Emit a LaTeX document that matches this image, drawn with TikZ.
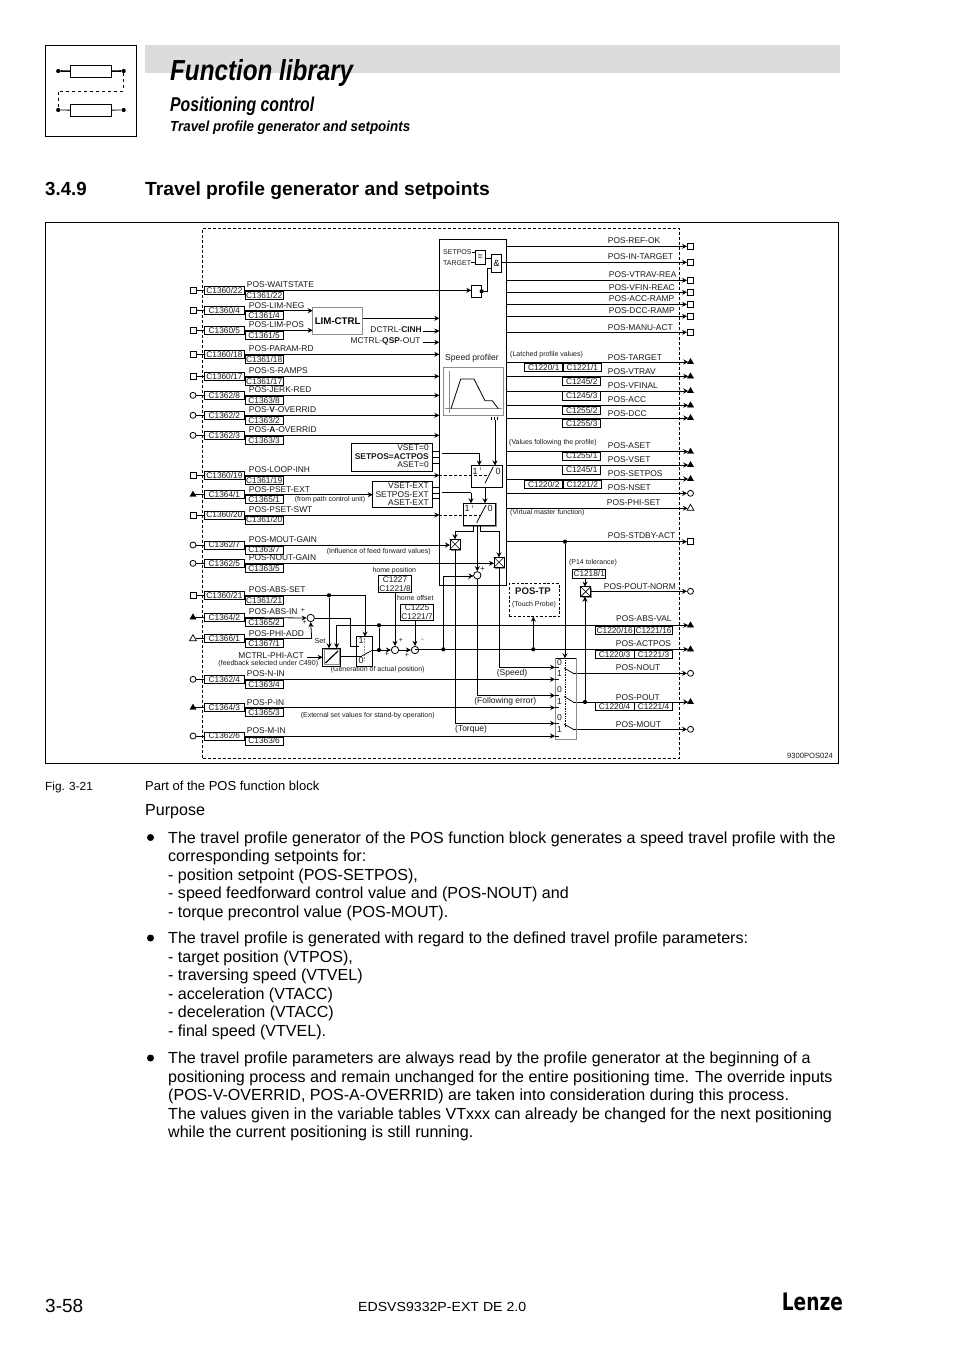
\documentclass[tikz,border=0pt]{standalone}
\usepackage{fontspec}
\setmainfont{Liberation Sans}
\newfontfamily\logofont{DejaVu Sans}
\usetikzlibrary{arrows.meta,shapes.geometric}
\definecolor{ink}{HTML}{1A1A1A}
\definecolor{band}{HTML}{DCDCDC}
\definecolor{grayline}{HTML}{8C8C8C}
\newcommand{\fs}[1]{\fontsize{#1}{#1}\selectfont}
\newcommand{\fitw}[3]{\resizebox{#1pt}{\height}{\fs{#2}#3}}
\tikzset{
  wire/.style={line width=0.8pt,draw=black},
  arr/.style={wire,-{Stealth[length=5pt,width=5pt]}},
  cbox/.style={draw=black,line width=0.7pt,inner sep=0pt,minimum height=8pt,font=\fs{8.3},text=ink},
  lab/.style={inner sep=0pt,font=\fs{8.4},text=ink},
  note/.style={inner sep=0pt,font=\fs{7},text=ink},
  notem/.style={inner sep=0pt,font=\fs{8.5},text=ink},
  sq/.style={draw=black,line width=0.9pt,fill=white,minimum size=6pt,inner sep=0pt},
  rnd/.style={draw=black,line width=0.8pt,fill=white,circle,minimum size=6pt,inner sep=0pt},
  trf/.style={draw=black,fill=black,regular polygon,regular polygon sides=3,minimum size=7pt,inner sep=0pt},
  tro/.style={draw=black,line width=0.7pt,fill=white,regular polygon,regular polygon sides=3,minimum size=8pt,inner sep=0pt},
  sumn/.style={draw=black,line width=0.8pt,fill=white,circle,minimum size=7.4pt,inner sep=0pt},
  dotn/.style={fill=black,circle,minimum size=4.2pt,inner sep=0pt},
  blk/.style={draw=black,line width=0.8pt,inner sep=0pt},
  body/.style={anchor=base west,inner sep=0pt,font=\fs{16.05}},
}
% key, style, x1, y1, x2, y2, text
\newcommand{\rnode}[7]{\node[#2,minimum width={(#5)-(#3)},minimum height={(#6)-(#4)}] (#1) at ({((#3)+(#5))/2},{((#4)+(#6))/2}) {#7};}
% key, y, symbol style, code 1, code 2, label, label x
\newcommand{\inrow}[7]{%
  \node[#3] (sym#1) at (193,#2) {};
  \rnode{ca#1}{cbox}{204.5}{#2-4}{244.3}{#2+4}{#4}
  \rnode{cb#1}{cbox}{245}{#2+1}{283.3}{#2+9}{#5}
  \node[lab,anchor=base west] (lab#1) at (#7,#2-2.4) {#6};
  \draw[wire] (sym#1) -- (ca#1);
}
% key, y, symbol style, label, label x, label centre y, start x
\newcommand{\outrow}[7]{%
  \node[#3] (sym#1) at (690.5,#2) {};
  \coordinate (from#1) at (#7,#2);
  \draw[arr] (from#1) -- (sym#1);
  \node[lab,anchor=west] (lab#1) at (#5,#6) {#4};
}
% cross box: key, x1, y1, x2, y2
\newcommand{\xbox}[5]{%
  \draw[grayline,line width=1.1pt] (#2+0.8,#5+0.8) -- (#4+0.8,#5+0.8) -- (#4+0.8,#3+0.8);
  \rnode{#1}{blk}{#2}{#3}{#4}{#5}{}
  \draw[line width=0.6pt] (#1.north west) -- (#1.south east) (#1.north east) -- (#1.south west);
}
\begin{document}
\begin{tikzpicture}[x=1pt,y=-1pt,line cap=butt]
\useasboundingbox (0,0) rectangle (954,1350);
\fill[white] (0,0) rectangle (954,1350);

% ---------- header ----------
\fill[band] (145,44.7) rectangle (840,72.7);
\rnode{icon}{blk}{45.3}{45.3}{136.5}{136.5}{}
\rnode{ica}{blk}{70.3}{65}{111.7}{77.7}{}
\rnode{icb}{blk}{70.3}{104}{111.7}{116.7}{}
\node[dotn] (ica1) at (58.2,71) {};
\node[dotn] (ica2) at (123.7,71) {};
\node[dotn] (icb1) at (58.2,110) {};
\node[dotn] (icb2) at (123.7,110) {};
\draw[line width=1.6pt] (ica1) -- (ica) (ica) -- (ica2);
\draw[wire] (icb1) -- (icb) (icb) -- (icb2);
\coordinate (ica3) at (123.7,91);
\coordinate (icb3) at (58.2,91);
\draw[line width=0.7pt,dash pattern=on 3pt off 3pt] (ica2) -- (ica3) -- (icb3) -- (icb1);

\node[anchor=base west,inner sep=0pt] (title) at (170,80) {\fitw{183}{29}{\bfseries\itshape Function library}};
\node[anchor=base west,inner sep=0pt] (sub1) at (170,111) {\fitw{144}{20}{\bfseries\itshape Positioning control}};
\node[anchor=base west,inner sep=0pt] (sub2) at (170,131.7) {\fitw{240}{14.6}{\bfseries\itshape Travel profile generator and setpoints}};
\node[anchor=base west,inner sep=0pt] (secn) at (45,195) {\fitw{41.5}{19}{\bfseries 3.4.9}};
\node[anchor=base west,inner sep=0pt] (sect) at (145,195) {\fitw{344.5}{19}{\bfseries Travel profile generator and setpoints}};

% ---------- frames ----------
\rnode{outer}{blk}{45}{222.3}{838.5}{763.3}{}
\rnode{dash}{draw=black,line width=0.8pt,dash pattern=on 3pt off 2pt,inner sep=0pt}{202.5}{228.5}{679.5}{758}{}
\node[anchor=east,inner sep=0pt,font=\fs{7.6},text=ink] (figid) at (833,756) {9300POS024};

% ---------- central block ----------
\rnode{core}{blk}{439.3}{239.3}{506.3}{585.3}{}

% ---------- inputs ----------
\inrow{wait}{290.3}{sq}{C1360/22}{C1361/22}{POS-WAITSTATE}{246.7}
\inrow{neg}{310.7}{sq}{C1360/4}{C1361/4}{POS-LIM-NEG}{248.7}
\inrow{pos}{330.3}{sq}{C1360/5}{C1361/5}{POS-LIM-POS}{248.7}
\inrow{par}{354.3}{sq}{C1360/18}{C1361/18}{POS-PARAM-RD}{248.7}
\inrow{ramp}{376.3}{sq}{C1360/17}{C1361/17}{POS-S-RAMPS}{248.7}
\inrow{jerk}{395.3}{rnd}{C1362/8}{C1363/8}{POS-JERK-RED}{248.7}
\inrow{vov}{415.3}{rnd}{C1362/2}{C1363/2}{POS-\textbf{V}-OVERRID}{248.7}
\inrow{aov}{435.3}{rnd}{C1362/3}{C1363/3}{POS-\textbf{A}-OVERRID}{248.7}
\inrow{loop}{475.3}{sq}{C1360/19}{C1361/19}{POS-LOOP-INH}{248.7}
\inrow{pset}{494.7}{trf}{C1364/1}{C1365/1}{POS-PSET-EXT}{248.7}
\inrow{swt}{515}{sq}{C1360/20}{C1361/20}{POS-PSET-SWT}{248.7}
\inrow{mgain}{545}{rnd}{C1362/7}{C1363/7}{POS-MOUT-GAIN}{248.7}
\inrow{ngain}{563.3}{rnd}{C1362/5}{C1363/5}{POS-NOUT-GAIN}{248.7}
\inrow{abs}{595.3}{sq}{C1360/21}{C1361/21}{POS-ABS-SET}{248.7}
\inrow{absin}{617.3}{trf}{C1364/2}{C1365/2}{POS-ABS-IN}{248.7}
\inrow{phi}{638.7}{tro}{C1366/1}{C1367/1}{POS-PHI-ADD}{248.7}
\inrow{nin}{679.3}{rnd}{C1362/4}{C1363/4}{POS-N-IN}{246.7}
\inrow{pin}{707.7}{trf}{C1364/3}{C1365/3}{POS-P-IN}{246.7}
\inrow{min}{736}{rnd}{C1362/6}{C1363/6}{POS-M-IN}{246.7}

\foreach \k/\yy in {par/354.3,ramp/376.3,jerk/395.3,vov/415.3,aov/435.3,loop/475.3,swt/515}{
  \coordinate (in\k) at (439.3,\yy);
  \draw[arr] (ca\k) -- (in\k);
}

% LIM-CTRL
\rnode{lim}{draw=grayline,line width=1pt,inner sep=0pt,font=\fs{9.7}\bfseries,text=black}{312.7}{307.3}{362.7}{334.3}{LIM-CTRL}
\coordinate (limneg) at (312.7,310.7);
\coordinate (limpos) at (312.7,330.3);
\draw[arr] (caneg) -- (limneg);
\draw[arr] (capos) -- (limpos);
\coordinate (limout) at (362.7,318.3);
\coordinate (limin) at (439.3,318.3);
\draw[arr] (limout) -- (limin);
\node[lab,anchor=east] (cinh) at (422,329.5) {DCTRL-\textbf{CINH}};
\node[lab,anchor=east] (qsp) at (420.7,341.7) {MCTRL-\textbf{QSP}-OUT};
\coordinate (cinhin) at (439.3,331);
\coordinate (qspin) at (439.3,342.3);
\draw[arr] (cinh.east) ++(1,1.5) coordinate (cinhs) -- (cinhin);
\draw[arr] (qsp.east) ++(2,0.6) coordinate (qsps) -- (qspin);

% set-value boxes
\node[draw=black,line width=0.8pt,minimum width=81.4pt,minimum height=27.6pt,inner sep=0pt] (vbox) at (392,457.5) {};
\node[lab,anchor=east] (v1) at (429,447.8) {VSET=0};
\node[lab,anchor=east] (v2) at (429,456.2) {\textbf{SETPOS=ACTPOS}};
\node[lab,anchor=east] (v3) at (429,464.6) {ASET=0};
\node[draw=black,line width=0.8pt,minimum width=60pt,minimum height=25.6pt,inner sep=0pt] (xvbox) at (402.7,494.5) {};
\node[lab,anchor=east] (x1) at (429,486) {VSET-EXT};
\node[lab,anchor=east] (x2) at (429,494.3) {SETPOS-EXT};
\node[lab,anchor=east] (x3) at (429,502.5) {ASET-EXT};
\foreach \yy in {451,457,463.3}{\draw[wire] (432.7,\yy) -- (439.3,\yy);}
\foreach \yy in {487.7,493.3,498.7}{\draw[wire] (432.7,\yy) -- (439.3,\yy);}
\coordinate (psetin) at (372.7,494.7);
\draw[arr] (capset) -- (psetin);

% inside block : comparator
\node[lab,anchor=west,font=\fs{7}] (sp) at (443,252.3) {SETPOS};
\node[lab,anchor=west,font=\fs{7}] (tg) at (443,262.7) {TARGET};
\rnode{eq}{blk,font=\fs{9}}{475}{250}{485.3}{264.3}{=}
\rnode{andg}{blk,font=\fs{9}}{491.7}{254}{501.7}{272.3}{\&}
\rnode{lat}{blk}{471.3}{285}{481.7}{297.7}{}
\draw[wire] (sp.east) -- (475,252.3);
\draw[wire] (tg.east) -- (475,262.7);
\draw[wire] (485.3,258.3) -- (491.7,258.3);
\coordinate (latin) at (471.3,290.3);
\draw[arr] (cawait) -- (latin);
\node[dotn] (latd) at (481.7,291.3) {};
\coordinate (latb) at (487.3,291.3);
\coordinate (latc) at (487.3,268.3);
\coordinate (latd2) at (491.7,268.3);
\draw[wire] (latd) -- (latb) -- (latc) -- (latd2);

% speed profiler
\node[lab,font=\fs{8.6},anchor=west] (spdp) at (445,358.3) {Speed profiler};
\rnode{prof}{draw=grayline,line width=1.1pt,inner sep=0pt}{443.3}{367.3}{503.3}{415.3}{}
\draw[grayline,line width=1pt] (449,370.7) -- (449,413.3);
\draw[grayline,line width=1pt] (445,408.7) -- (501.7,408.7);
\draw[wire] (451,408.7) -- (460.7,379) -- (474,379) -- (485,400.7) -- (492.3,400.7) -- (498.3,408.7);
\foreach \xx in {491,494,497.7}{\draw[line width=0.6pt] (\xx,416.5) -- (\xx,420);}

% switches
\rnode{swa}{blk}{471.7}{465.5}{502.7}{487.3}{}
\draw[grayline,line width=1.1pt] (463.3,526.5) -- (496.1,526.5) -- (496.1,503.3);
\rnode{swb}{blk}{463.3}{503.3}{495.3}{525.7}{}
\node[lab,anchor=center,font=\fs{9}] (swa1) at (475,471.5) {1};
\node[lab,anchor=center,font=\fs{9}] (swa0) at (498,471.5) {0};
\node[lab,anchor=center,font=\fs{9}] (swb1) at (467,508) {1};
\node[lab,anchor=center,font=\fs{9}] (swb0) at (490,508) {0};
\draw[line width=0.8pt] (485,483.3) -- (493.3,466.7);
\draw[line width=0.8pt] (476.7,522.7) -- (486,505);
\draw[grayline,line width=0.5pt] (480.7,467) -- (480.7,470);
\draw[grayline,line width=0.5pt] (472.2,505) -- (472.2,508);
\coordinate (profout) at (495,420);
\coordinate (swatop) at (495,465.5);
\draw[arr] (profout) -- (swatop);
\coordinate (vin) at (442.3,453.3);
\coordinate (vinb) at (479.3,453.3);
\coordinate (vinc) at (479.3,465.5);
\draw[wire] (vin) -- (vinb);
\draw[arr] (vinb) -- (vinc);
\coordinate (xin) at (442.3,492.7);
\coordinate (xinb) at (471,492.7);
\coordinate (xinc) at (471,503.3);
\draw[wire] (xin) -- (xinb);
\draw[arr] (xinb) -- (xinc);
\coordinate (swab) at (485,487.3);
\coordinate (swbt) at (485,503.3);
\draw[arr] (swab) -- (swbt);
\draw[line width=0.8pt,dash pattern=on 3pt off 2pt] (439.3,475.3) -- (488,475.3);
\draw[line width=0.8pt,dash pattern=on 3pt off 2pt] (439.3,515.5) -- (480,515.5);

% cross boxes
\xbox{xa}{450}{539.3}{460}{549.3}
\xbox{xb}{494}{557.3}{504}{567.3}
\xbox{xc}{580.7}{586.7}{590.7}{596.7}
\coordinate (xal) at (450,545);
\coordinate (xbl) at (494,563.3);
\draw[arr] (camgain) -- (xal);
\draw[arr] (cangain) -- (xbl);
\coordinate (sl1) at (473.3,525.7);
\coordinate (sl2) at (473.3,531);
\coordinate (sl3) at (455,531);
\coordinate (sl4) at (455,539.3);
\draw[wire] (sl1) -- (sl2) -- (sl3);
\draw[arr] (sl3) -- (sl4);
\coordinate (sr1) at (480.7,525.7);
\coordinate (sr2) at (480.7,531);
\coordinate (sr3) at (499,531);
\coordinate (sr4) at (499,557.3);
\draw[wire] (sr1) -- (sr2) -- (sr3);
\draw[arr] (sr3) -- (sr4);
\node[sumn] (sumc) at (477.3,575.3) {};
\coordinate (sm1) at (477.3,525.7);
\draw[arr] (sm1) -- (sumc);
\node[note,font=\fs{8}] (pc1) at (482.5,569) {+};
\node[note,font=\fs{8}] (pc2) at (469,580.7) {-};

% POS-TP
\rnode{tp}{draw=black,line width=0.8pt,dash pattern=on 2.6pt off 1.8pt,inner sep=0pt}{509.3}{583.7}{559.3}{616.7}{}
\node[lab,font=\fs{9.6}\bfseries] (tpt) at (533,590.7) {POS-TP};
\node[note] (tpn) at (534,604.7) {(Touch Probe)};

% ---------- actual position path ----------
\node[sumn] (sum1) at (310.7,618) {};
\draw[arr] (caabsin) -- (sum1.west);
\coordinate (phib) at (311.7,638.7);
\draw[wire] (caphi) -- (phib);
\draw[arr] (phib) -- (sum1.south);
\node[note,font=\fs{7}] (pa) at (303,610.7) {+};
\node[note,font=\fs{7}] (pb) at (304.3,622.9) {+};
\node[note,font=\fs{7.2}] (setl) at (320,640.7) {Set};

\rnode{setb}{blk}{322.7}{648.3}{340.7}{666}{}
\draw[grayline,line width=0.7pt] (323.9,649.5) rectangle (339.5,664.8);
\draw[line width=1.2pt] (325.5,663) -- (338,651);
\rnode{swc}{blk}{356.7}{636.7}{372.7}{666}{}
\draw[grayline,line width=0.6pt,densely dotted] (364.5,637.5) -- (364.5,660);
\node[lab,anchor=center,font=\fs{9}] (swc1) at (361,640.7) {1};
\node[lab,anchor=center,font=\fs{9}] (swc0) at (361,660.5) {0};
\coordinate (swcout) at (372.7,650);
\draw[line width=0.7pt] (361.7,656) -- (swcout);
\coordinate (mcin) at (307,657.3);
\coordinate (mcto) at (322.7,657.3);
\draw[arr] (mcin) -- (mcto);
\node[lab,anchor=east] (mc) at (304,656) {MCTRL-PHI-ACT};
\node[note] (fb) at (268.3,663.7) {(feedback selected under C490)};
\coordinate (sa) at (340.7,656);
\coordinate (sb) at (361.7,656);
\draw[wire] (sa) -- (sb);

\node[dotn] (dabs) at (329,595.3) {};
\coordinate (absc) at (365,595.3);
\coordinate (absd) at (365,636.7);
\coordinate (abse) at (329,648.3);
\draw[wire] (caabs) -- (absc);
\draw[arr] (absc) -- (absd);
\draw[arr] (dabs) -- (abse);

\coordinate (s1a) at (350.7,618);
\coordinate (s1b) at (350.7,646);
\coordinate (s1c) at (359,646);
\draw[wire] (sum1) -- (s1a) -- (s1b) -- (s1c);

\node[sumn] (sum2) at (395,650) {};
\node[sumn] (sum3) at (415,650) {};
\node[dotn] (dsw) at (379,650) {};
\node[dotn] (dup) at (379,625.3) {};
\draw[wire] (swcout) -- (dsw);
\draw[wire] (dup) -- (dsw);
\draw[arr] (dsw) -- (sum2);
\draw[arr] (sum2) -- (sum3);
\node[note,font=\fs{7}] (ps1) at (387,654.5) {+};
\node[note,font=\fs{7}] (ps2) at (401,640.5) {+};
\node[note,font=\fs{7}] (ps3) at (407,655) {+};
\node[note,font=\fs{7}] (ps4) at (422.5,640.5) {-};

\node[note] (hp) at (394.3,570.7) {home position};
\node[note] (ho) at (415.3,598.3) {home offset};
\node[cbox,minimum width=33.4pt,minimum height=16.6pt,align=center] (hpb) at (395,584) {C1227\\C1221/8};
\node[cbox,minimum width=32.6pt,minimum height=15.7pt,align=center] (hob) at (417,612.1) {C1225\\C1221/7};
\coordinate (hpx) at (395,592.3);
\coordinate (hox) at (415,620);
\draw[arr] (hpx) -- (sum2);
\draw[arr] (hox) -- (sum3);

% ---------- outputs (status) ----------
\outrow{ok}{246.3}{sq}{POS-REF-OK}{607.7}{241}{506.3}
\outrow{it}{262.3}{sq}{POS-IN-TARGET}{607.7}{257}{501.7}
\outrow{vr}{280.3}{sq}{POS-VTRAV-REA}{608.7}{275}{506.3}
\outrow{fr}{292.3}{sq}{POS-VFIN-REAC}{608.7}{287.3}{506.3}
\outrow{ar}{304.3}{sq}{POS-ACC-RAMP}{608.7}{299}{506.3}
\outrow{dr}{316.3}{sq}{POS-DCC-RAMP}{608.7}{310.7}{506.3}
\outrow{ma}{332.3}{sq}{POS-MANU-ACT}{607.7}{327.7}{506.3}
\outrow{tg}{362}{trf}{POS-TARGET}{607.7}{357.7}{506.3}
\outrow{vt}{376.3}{trf}{POS-VTRAV}{607.7}{372}{506.3}
\outrow{vf}{391}{trf}{POS-VFINAL}{607.7}{386}{506.3}
\outrow{ac}{405.3}{trf}{POS-ACC}{607.7}{400}{506.3}
\outrow{dc}{418}{trf}{POS-DCC}{607.7}{414}{506.3}
\outrow{as}{451.7}{trf}{POS-ASET}{607.7}{446}{506.3}
\outrow{vs}{465}{trf}{POS-VSET}{607.7}{460}{506.3}
\outrow{sp}{479}{trf}{POS-SETPOS}{607.7}{473.7}{506.3}
\outrow{ns}{493.3}{rnd}{POS-NSET}{607.7}{488}{506.3}
\outrow{ph}{508.3}{tro}{POS-PHI-SET}{606.7}{502.7}{506.3}
\outrow{sb}{541.7}{sq}{POS-STDBY-ACT}{607.7}{536}{506.3}
\outrow{pn}{591.3}{rnd}{POS-POUT-NORM}{603.7}{587}{590.7}
\outrow{av}{625.3}{trf}{POS-ABS-VAL}{616}{619}{336.7}
\outrow{ap}{649.3}{trf}{POS-ACTPOS}{615.7}{643.7}{415}
\outrow{no}{673.3}{rnd}{POS-NOUT}{615.7}{667.7}{573.3}
\outrow{po}{702}{trf}{POS-POUT}{615.7}{697.3}{573.3}
\outrow{mo}{729.3}{rnd}{POS-MOUT}{615.7}{725}{573.3}
\coordinate (ava) at (336.7,648.3);
\draw[arr] (fromav) -- (ava);

% latched values
\node[note,anchor=west] (n1) at (510,354.7) {(Latched profile values)};
\node[note,anchor=west] (n2) at (509,442.7) {(Values following the profile)};
\node[note,anchor=west] (n3) at (510,512.3) {(Virtual master function)};
\node[note] (n4) at (593,562.7) {(P14 tolerance)};
\rnode{b1}{cbox}{524.7}{363.3}{562.7}{371.7}{C1220/1}
\rnode{b2}{cbox}{563.3}{363.3}{601.3}{371.7}{C1221/1}
\rnode{b3}{cbox}{562.7}{377.3}{600.7}{385.7}{C1245/2}
\rnode{b4}{cbox}{562.7}{391.7}{600.7}{400}{C1245/3}
\rnode{b5}{cbox}{562.7}{406}{600.7}{414.3}{C1255/2}
\rnode{b6}{cbox}{562.7}{419.3}{600.7}{427.7}{C1255/3}
\rnode{b7}{cbox}{562.7}{452}{600.7}{460}{C1255/1}
\rnode{b8}{cbox}{562.7}{465.7}{600.7}{474}{C1245/1}
\rnode{b9}{cbox}{524.7}{480}{562.7}{488.3}{C1220/2}
\rnode{b10}{cbox}{563.3}{480}{601.3}{488.3}{C1221/2}
\rnode{b11}{cbox}{572.7}{569.7}{605.7}{578.3}{C1218/1}
\rnode{b12}{cbox}{595.3}{626.3}{634}{634.3}{C1220/16}
\rnode{b13}{cbox}{634.7}{626.3}{672.3}{634.3}{C1221/16}
\rnode{b14}{cbox}{595.3}{650.3}{634}{658.3}{C1220/3}
\rnode{b15}{cbox}{634.7}{650.3}{672.3}{658.3}{C1221/3}
\rnode{b16}{cbox}{595.3}{702.3}{634}{710.3}{C1220/4}
\rnode{b17}{cbox}{634.7}{702.3}{672.3}{710.3}{C1221/4}
\coordinate (xct) at (585,586.7);
\coordinate (b11b) at (585,578.3);
\draw[arr] (b11b) -- (xct);

% ---------- output selector ----------
\draw[grayline,line width=1.1pt] (555.7,658.3) -- (555.7,739.6) -- (576.2,739.6) -- (576.2,658.3);
\coordinate (ssa) at (555.7,658.3);
\coordinate (ssb) at (576.2,658.3);
\draw[wire] (ssa) -- (ssb);
\draw[line width=0.7pt,densely dotted] (565,660) -- (565,727);
\node[lab,font=\fs{8.6}] (o0) at (559.5,662.3) {0};
\node[lab,font=\fs{8.6}] (o1) at (559.5,674) {1};
\node[lab,font=\fs{8.6}] (o2) at (559.5,690) {0};
\node[lab,font=\fs{8.6}] (o3) at (559.5,701.7) {1};
\node[lab,font=\fs{8.6}] (o4) at (559.5,717.7) {0};
\node[lab,font=\fs{8.6}] (o5) at (559.5,730) {1};
\draw[line width=0.7pt] (564,668) -- (573.3,673.3);
\draw[line width=0.7pt] (564,696.5) -- (573.3,702);
\draw[line width=0.7pt] (564,724) -- (573.3,729.3);
\node[dotn] (dsb) at (565,541.7) {};
\coordinate (ssc) at (565,658.3);
\draw[arr] (dsb) -- (ssc);

% selector inputs
\coordinate (a0) at (499,667.3);
\coordinate (a0b) at (555,667.3);
\coordinate (xbb) at (499,567.3);
\draw[wire] (xbb) -- (a0);
\draw[arr] (a0) -- (a0b);
\coordinate (a2) at (477.3,695.5);
\coordinate (a2b) at (555,695.5);
\draw[wire] (sumc) -- (a2);
\draw[arr] (a2) -- (a2b);
\coordinate (a4) at (455,723.3);
\coordinate (a4b) at (555,723.3);
\coordinate (xab) at (455,549.3);
\draw[wire] (xab) -- (a4);
\draw[arr] (a4) -- (a4b);
\coordinate (a1) at (555,679.3);
\coordinate (a3) at (555,707.7);
\coordinate (a5) at (555,736);
\draw[arr] (canin) -- (a1);
\draw[arr] (capin) -- (a3);
\draw[arr] (camin) -- (a5);
\foreach \yy in {679.3,707.7,736}{\draw[wire] (555,\yy) -- (559,\yy);}
\foreach \yy in {667.3,695.5,723.3}{\draw[wire] (555,\yy) -- (559,\yy);}

\node[notem] (ts) at (512,673) {(Speed)};
\node[notem] (tf) at (505.3,701.3) {(Following error)};
\node[notem] (tt) at (471,729) {(Torque)};
\node[note] (t1) at (367.7,715.7) {(External set values for stand-by operation)};
\node[note] (t2) at (377.7,669.7) {(Generation of actual position)};
\node[note] (t3) at (378.7,551.3) {(Influence of feed forward values)};
\node[note] (t4) at (330,499.3) {(from path control unit)};

% feedback dots
\node[dotn] (dm) at (443.3,649.3) {};
\coordinate (dmt) at (443.3,576);
\coordinate (sumin) at (473.6,576);
\draw[wire] (dm) -- (dmt);
\draw[arr] (dmt) -- (sumin);
\node[dotn] (dtp) at (533.3,649.3) {};
\coordinate (tpb) at (533.3,616.7);
\draw[arr] (dtp) -- (tpb);
\node[dotn] (dpo) at (585,702) {};
\coordinate (xcb) at (585,596.7);
\draw[arr] (dpo) -- (xcb);

% ---------- caption + body ----------
\node[anchor=base west,inner sep=0pt,font=\fs{11.8}] (fig) at (45,790) {Fig. 3-21};
\node[anchor=base west,inner sep=0pt,font=\fs{13}] (cap) at (145,790) {Part of the POS function block};
\node[body] (purp) at (145,815.7) {Purpose};

\node[dotn,minimum size=7pt] (bu1) at (150.5,837.5) {};
\node[dotn,minimum size=7pt] (bu2) at (150.5,938) {};
\node[dotn,minimum size=7pt] (bu3) at (150.5,1058) {};
\node[body] (p1a) at (168,843.3) {The travel profile generator of the POS function block generates a speed travel profile with the};
\node[body] (p1b) at (168,861.8) {corresponding setpoints for:};
\node[body] (p1c) at (168,880.3) {- position setpoint (POS-SETPOS),};
\node[body] (p1d) at (168,898.8) {- speed feedforward control value and (POS-NOUT) and};
\node[body] (p1e) at (168,917.3) {- torque precontrol value (POS-MOUT).};
\node[body] (p2a) at (168,943.5) {The travel profile is generated with regard to the defined travel profile parameters:};
\node[body] (p2b) at (168,962) {- target position (VTPOS),};
\node[body] (p2c) at (168,980.5) {- traversing speed (VTVEL)};
\node[body] (p2d) at (168,999) {- acceleration (VTACC)};
\node[body] (p2e) at (168,1017.5) {- deceleration (VTACC)};
\node[body] (p2f) at (168,1036) {- final speed (VTVEL).};
\node[body] (p3a) at (168,1063.5) {The travel profile parameters are always read by the profile generator at the beginning of a};
\node[body] (p3b) at (168,1082) {positioning process and remain unchanged for the entire positioning time. The override inputs};
\node[body] (p3c) at (168,1100.5) {(POS-V-OVERRID, POS-A-OVERRID) are taken into consideration during this process.};
\node[body] (p3d) at (168,1119) {The values given in the variable tables VTxxx can already be changed for the next positioning};
\node[body] (p3e) at (168,1137.5) {while the current positioning is still running.};

% ---------- footer ----------
\node[anchor=base west,inner sep=0pt,font=\fs{19}] (pg) at (45,1312) {3-58};
\node[anchor=base west,inner sep=0pt] (doc) at (358,1311.5) {\fitw{168}{13.2}{EDSVS9332P-EXT DE 2.0}};
\node[anchor=base west,inner sep=0pt] (logo) at (781.7,1310.7) {\fitw{61}{24}{\logofont\bfseries Lenze}};
\end{tikzpicture}
\end{document}
